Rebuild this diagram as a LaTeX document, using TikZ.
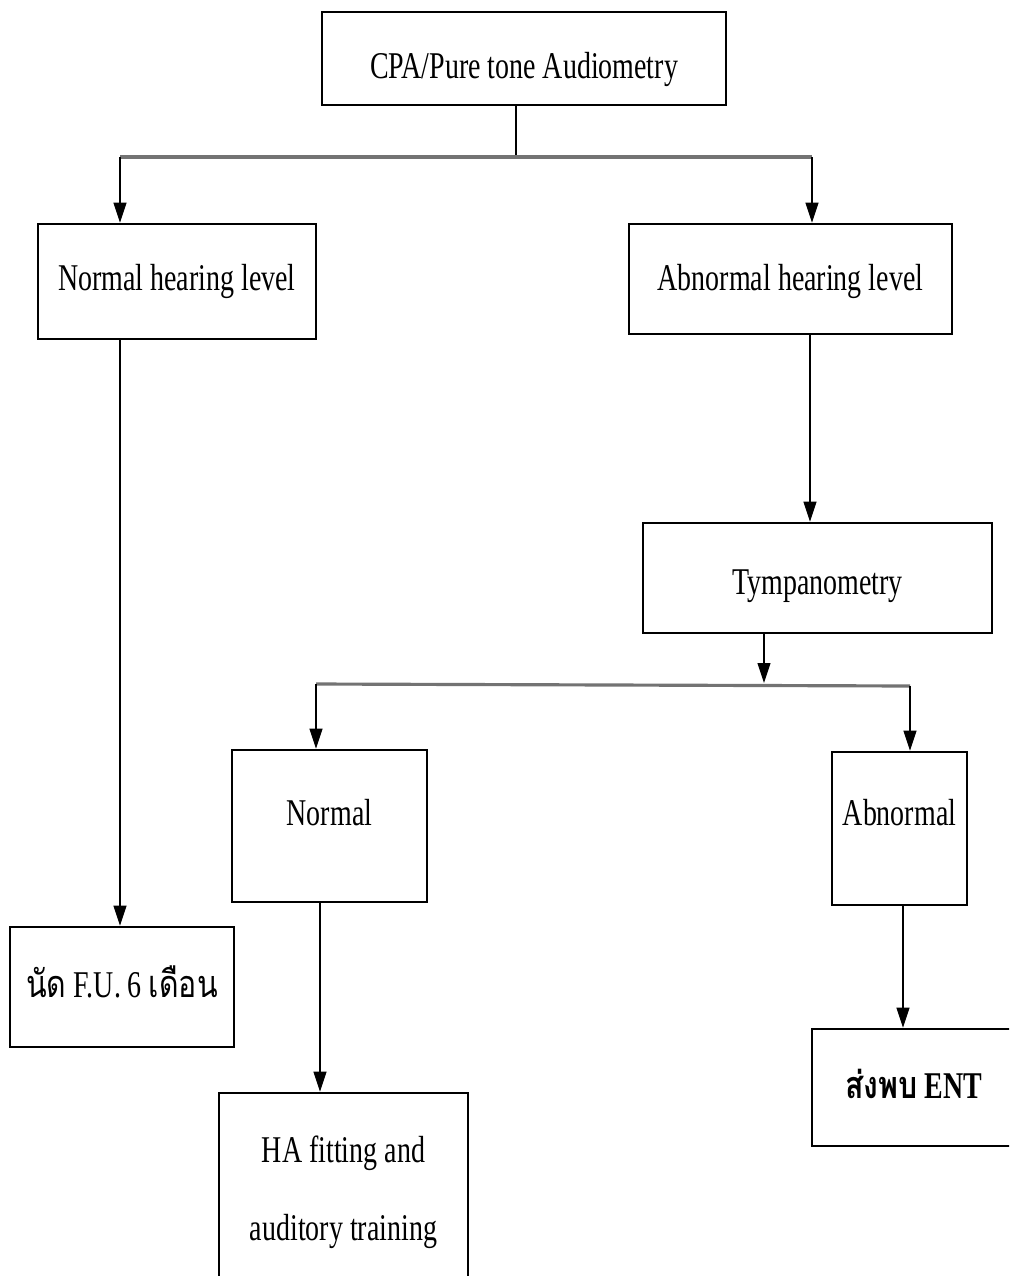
\documentclass[tikz,border=0pt]{standalone}
\usepackage{fontspec}
\setmainfont{Liberation Serif}[FakeStretch=0.74]
\newfontfamily\thaifont[Script=Thai,FakeStretch=0.8]{Loma}
\usetikzlibrary{arrows.meta}
% baseline of a box text, shifted from the box centre
\newcommand{\boxtext}[2]{\smash{\raisebox{#1}{#2}}}

\begin{document}
\begin{tikzpicture}
      [%%%%%%%%%%%%%%%%%%%%%%%%%%%%%%
      x=0.02cm, y=-0.02cm,
      box/.style={rectangle,draw=black,line width=1.6pt,font=\fontsize{21.5}{25}\selectfont},
      arr/.style={draw=black,line width=0.6pt,-{Triangle[length=0.4cm,width=0.26cm]}},
      bar/.style={draw=black!55,line width=1.8pt},
      ]%%%%%%%%%%%%%%%%%%%%%%%%%%%%%%
      \clip (0,0) rectangle (1009,1276);

      \node[box,minimum width=8.08cm,minimum height=1.86cm] (cpa) at (524,58.5) {\boxtext{-0.39cm}{CPA/Pure tone Audiometry}};
      \node[box,minimum width=5.56cm,minimum height=2.3cm ] (nhl) at (177,281.5) {\boxtext{-0.17cm}{Normal hearing level}};
      \node[box,minimum width=6.46cm,minimum height=2.2cm ] (ahl) at (790.5,279) {\boxtext{-0.22cm}{Abnormal hearing level}};
      \node[box,minimum width=6.98cm,minimum height=2.2cm ] (tymp) at (817.5,578) {\boxtext{-0.32cm}{Tympanometry}};
      \node[box,minimum width=3.9cm, minimum height=3.04cm] (nor) at (329.5,826) {\boxtext{0.02cm}{Normal}};
      \node[box,minimum width=2.7cm, minimum height=3.06cm] (abn) at (899.5,828.5) {\boxtext{0.07cm}{Abnormal}};
      \node[box,minimum width=4.48cm,minimum height=2.4cm ] (fu) at (122,987) {\boxtext{-0.2cm}{{\thaifont นัด} F.U. 6 {\thaifont เดือน}}};
      \node[box,minimum width=4.98cm,minimum height=4.14cm] (ha) at (343.5,1196.5) {\boxtext{-0.87cm}{\parbox[b]{4.5cm}{\centering HA fitting and\\[0.68cm] auditory training}}};
      \node[box,minimum width=4.06cm,minimum height=2.34cm] (ent) at (913.5,1087.5) {\boxtext{-0.21cm}{\bfseries{\thaifont ส่งพบ} ENT}};

      % first split
      \coordinate (s1) at (516,157);
      \coordinate (s1l) at (120,157);
      \coordinate (s1r) at (812,157);
      \draw[black,line width=0.6pt] (cpa.south -| s1) -- (s1);
      \draw[bar] (s1l) -- (s1r);
      \draw[arr] (s1l) -- (s1l |- nhl.north);
      \draw[arr] (s1r) -- (s1r |- ahl.north);

      \draw[arr] (810,0 |- ahl.south) -- (810,0 |- tymp.north);

      % second split
      \coordinate (s2) at (764,683);
      \coordinate (s2l) at (316,684);
      \coordinate (s2r) at (910,686);
      \draw[arr] (s2 |- tymp.south) -- (s2);
      \draw[bar] (s2l) -- (s2r);
      \draw[arr] (s2l) -- (s2l |- nor.north);
      \draw[arr] (s2r) -- (s2r |- abn.north);

      \draw[arr] (s1l |- nhl.south) -- (s1l |- fu.north);
      \draw[arr] (320,0 |- nor.south) -- (320,0 |- ha.north);
      \draw[arr] (903,0 |- abn.south) -- (903,0 |- ent.north);
    \end{tikzpicture}
\end{document}
